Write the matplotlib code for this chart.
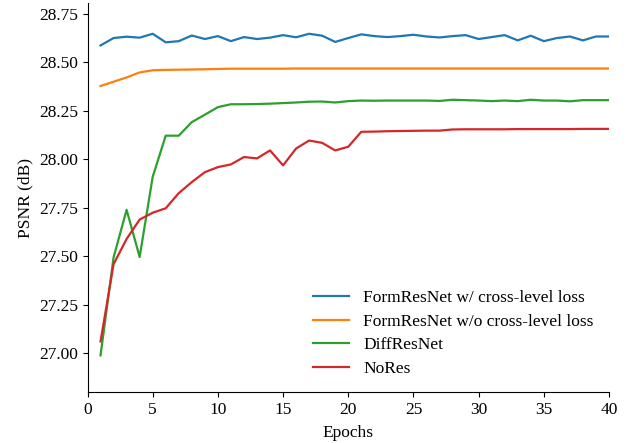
import matplotlib
matplotlib.use("Agg")
import matplotlib.pyplot as plt
import numpy as np

epochs = list(range(1, 41))

formresnet_cross = [28.587, 28.625, 28.632, 28.627, 28.647, 28.603, 28.609, 28.638, 28.620, 28.635,
                    28.609, 28.630, 28.620, 28.627, 28.640, 28.629, 28.647, 28.637, 28.605, 28.625,
                    28.644, 28.635, 28.630, 28.635, 28.642, 28.633, 28.628, 28.635, 28.640, 28.620,
                    28.630, 28.640, 28.613, 28.637, 28.609, 28.625, 28.633, 28.613, 28.633, 28.633]

formresnet_nocross = [28.378, 28.400, 28.422, 28.448, 28.459, 28.461, 28.462, 28.463, 28.464, 28.466,
                      28.467, 28.467, 28.467, 28.467, 28.467, 28.468, 28.468, 28.468, 28.468, 28.468,
                      28.468, 28.468, 28.468, 28.468, 28.468, 28.468, 28.468, 28.468, 28.468, 28.468,
                      28.468, 28.468, 28.468, 28.468, 28.468, 28.468, 28.468, 28.468, 28.468, 28.468]

diffresnet = [26.990, 27.495, 27.740, 27.497, 27.910, 28.122, 28.122, 28.192, 28.230, 28.269,
              28.284, 28.284, 28.285, 28.287, 28.290, 28.293, 28.297, 28.298, 28.293, 28.300,
              28.303, 28.302, 28.303, 28.303, 28.303, 28.303, 28.301, 28.307, 28.305, 28.303,
              28.300, 28.303, 28.300, 28.307, 28.303, 28.303, 28.299, 28.305, 28.305, 28.305]

nores = [27.062, 27.460, 27.590, 27.690, 27.725, 27.748, 27.826, 27.883, 27.934, 27.960,
         27.974, 28.012, 28.005, 28.046, 27.969, 28.056, 28.097, 28.085, 28.046, 28.065,
         28.142, 28.143, 28.145, 28.146, 28.147, 28.148, 28.148, 28.154, 28.155, 28.155,
         28.155, 28.155, 28.156, 28.156, 28.156, 28.156, 28.156, 28.157, 28.157, 28.157]

labels = ["FormResNet w/ cross-level loss", "FormResNet w/o cross-level loss", "DiffResNet", "NoRes"]
colors = ["#1f77b4", "#ff7f0e", "#2ca02c", "#d62728"]

plt.rcParams['font.family'] = ['Liberation Serif', 'DejaVu Serif']
plt.rcParams['font.size'] = 12.5

fig = plt.figure(figsize=(6.39, 4.43), dpi=100)
ax = fig.add_axes([87.5/639, 1 - 392.3/443, (609 - 87.5)/639, (392.3 - 3.3)/443])

for ys, lab, c in zip([formresnet_cross, formresnet_nocross, diffresnet, nores], labels, colors):
    ax.plot(epochs, ys, color=c, lw=1.6, label=lab)

ax.set_xlim(0, 40)
ax.set_ylim(26.8, 28.804)
ax.set_xticks(np.arange(0, 41, 5))
ax.set_yticks([27.00, 27.25, 27.50, 27.75, 28.00, 28.25, 28.50, 28.75])
ax.set_yticklabels(["27.00", "27.25", "27.50", "27.75", "28.00", "28.25", "28.50", "28.75"])
ax.spines['top'].set_visible(False)
ax.spines['right'].set_visible(False)
ax.set_xlabel("Epochs", labelpad=5)
ax.set_ylabel("PSNR (dB)")
ax.legend(loc="lower right", frameon=False, bbox_to_anchor=(1.0, 0.0),
          labelspacing=0.42, handlelength=2.1)

fig.savefig("out.png", dpi=100)
